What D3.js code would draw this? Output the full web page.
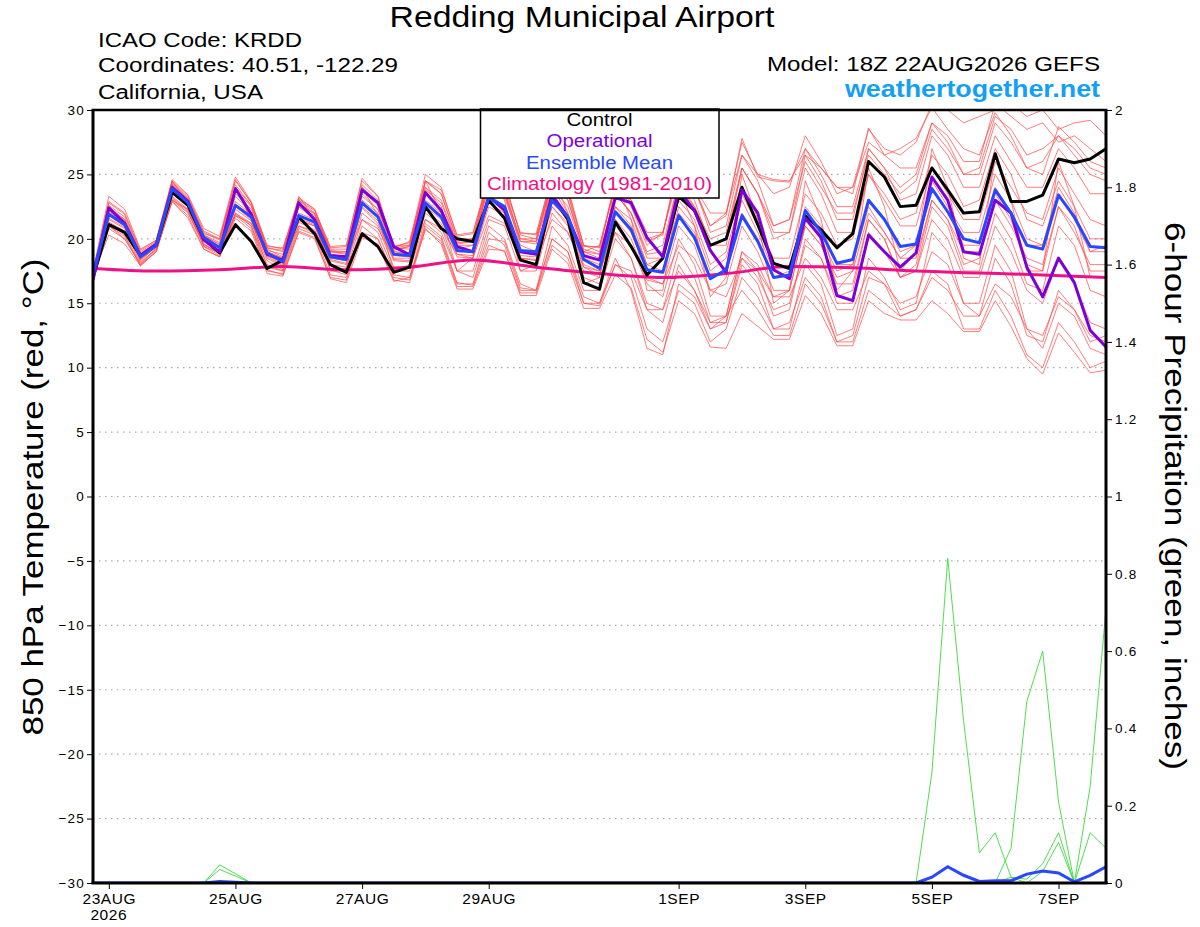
<!DOCTYPE html>
<html>
<head>
<meta charset="utf-8">
<script src="https://cdn.jsdelivr.net/npm/d3@7"></script>
<style>
  body { margin: 0; background: #fff; }
  svg { display: block; }
  text { font-family: "Liberation Sans", Arial, Helvetica, sans-serif; }
</style>
</head>
<body>
<div id="chart"></div>
<script>
// ---- data (6-hourly, 18Z 22AUG2026 .. 18Z 07SEP2026) ----
const startUtc = Date.UTC(2026, 7, 22, 18);
const stepHours = 6;
const nSteps = 65;

const controlTemp = [17.0,
  21.1,20.5,18.7,19.5, 23.6,22.6,20.0,18.9, 21.1,19.8,17.7,18.35, 21.7,20.4,18.0,17.4,
  20.4,19.4,17.4,17.8, 22.5,20.8,20.0,19.8, 23.0,21.6,18.35,18.0, 23.3,21.5,16.6,16.1,
  21.3,19.4,17.2,18.5, 23.3,22.2,19.5,20.0, 24.0,21.1,18.1,17.7, 21.8,20.7,19.3,20.4,
  26.0,24.8,22.5,22.6, 25.5,23.8,22.0,22.1, 26.6,22.9,22.9,23.4, 26.2,25.9,26.2,27.0];

const operationalTemp = [16.8,
  22.4,21.2,18.7,19.6, 24.0,22.9,19.9,19.0, 23.9,21.9,18.8,18.35, 22.8,21.5,18.7,18.6,
  23.8,22.8,19.4,18.75, 23.6,22.2,19.4,19.0, 23.3,22.2,19.0,18.8, 23.4,21.7,18.7,18.35,
  23.2,22.8,20.1,18.6, 23.8,22.2,19.1,17.4, 23.8,22.0,17.6,16.9, 21.6,20.1,15.6,15.2,
  20.3,19.0,17.8,18.9, 24.8,23.0,19.0,18.8, 23.0,22.0,17.8,15.5, 18.5,16.6,12.9,11.6];

const meanTemp = [17.3,
  21.9,21.1,18.6,19.5, 23.9,22.8,20.1,19.3, 22.6,21.7,18.9,18.2, 21.8,21.3,18.6,18.4,
  22.8,21.7,18.8,18.7, 22.8,21.7,19.1,19.0, 23.2,22.5,19.1,19.0, 23.0,21.7,18.4,17.7,
  22.1,20.7,17.6,17.4, 21.8,20.1,16.9,17.6, 21.8,19.8,17.0,17.2, 22.2,20.5,18.1,18.4,
  23.0,21.5,19.4,19.6, 23.9,22.1,20.0,19.7, 23.8,22.0,19.5,19.2, 23.4,21.7,19.4,19.3];

// climatology, one value per day at 18Z
const climTemp = [17.7,17.5,17.6,17.85,17.6,17.8,18.35,17.8,17.3,17.0,17.3,17.85,17.75,17.5,17.35,17.2,17.0];

const memberTemp = [
  [17.3,22.5,21.5,18.8, 19.6,24.2,23.0,20.3, 19.5,23.5,22.3,19.0, 18.5,22.5,21.8,19.0, 18.8,23.8,22.8,19.5, 19.5,24.5,23.5,20.0, 20.0,24.8,24.0,20.5, 20.3,25.0,23.8,19.5, 19.3,24.3,23.0,19.8, 20.3,26.0,24.0,21.0, 22.0,27.5,25.0,23.5, 24.0,28.0,26.0,23.5, 24.0,28.5,27.0,26.5, 27.5,30.5,30.0,29.0, 29.5,30.0,30.5,29.5, 30.0,28.5,29.0,29.2, 28.0],
  [17.2,20.3,19.6,17.9, 19.1,22.9,21.6,19.2, 18.6,21.6,20.6,17.3, 17.1,20.6,20.1,16.9, 16.6,20.1,19.6,16.8, 16.6,20.8,19.6,16.1, 16.1,19.2,19.1,15.6, 15.6,19.2,18.1,14.6, 14.6,17.2,16.2,12.2, 11.2,15.2,14.2,11.6, 11.5,14.2,13.2,12.2, 12.2,15.6,14.2,11.7, 11.7,15.2,14.2,13.7, 13.7,15.2,14.2,12.8, 12.8,15.2,13.2,10.7, 9.5,12.7,11.2,9.6, 9.8],
  [17.5,23.3,22.3,19.2, 19.9,24.6,23.4,20.8, 20.2,24.8,22.9,19.4, 19.3,23.2,22.3,19.3, 19.4,24.7,23.3,19.4, 19.7,25.0,24.0,20.2, 20.4,25.0,24.4,20.4, 20.4,24.8,24.0,19.4, 19.4,24.4,22.8,20.0, 20.4,25.5,23.8,21.0, 21.8,27.8,24.8,24.5, 24.4,27.0,25.5,24.0, 23.5,28.6,26.5,27.0, 27.8,30.2,28.5,27.0, 26.5,29.8,28.0,25.5, 25.0,28.7,27.5,26.0, 25.5],
  [17.0,21.0,20.0,18.0, 19.2,23.0,22.0,19.6, 18.8,22.0,21.0,18.0, 17.5,21.0,20.4,17.6, 17.2,21.0,20.0,17.2, 17.0,21.2,20.2,16.6, 16.4,20.0,19.8,16.2, 16.0,20.0,19.0,15.5, 15.0,18.0,17.0,13.0, 12.0,16.0,15.0,12.0, 13.0,17.0,15.5,13.0, 13.5,17.0,15.5,12.0, 12.5,17.0,16.5,15.0, 15.5,19.0,18.0,15.0, 15.0,19.5,17.5,13.0, 11.5,15.0,14.0,11.5, 11.0],
  [17.3,22.2,21.4,18.7, 19.6,24.0,22.9,20.2, 19.4,22.9,21.9,19.0, 18.3,22.0,21.5,18.8, 18.6,23.0,22.0,19.0, 18.9,23.5,22.3,19.5, 19.5,24.0,23.2,19.8, 19.6,24.0,22.5,19.0, 18.5,23.5,22.0,18.5, 18.5,23.0,21.5,18.0, 19.0,23.5,21.0,18.5, 18.5,23.5,22.0,19.5, 20.0,25.0,23.0,21.0, 21.0,25.5,23.5,21.5, 21.5,26.0,24.0,22.0, 21.5,25.5,23.5,21.5, 21.0],
  [17.2,21.5,20.8,18.4, 19.4,23.6,22.5,19.9, 19.0,22.3,21.4,18.6, 17.9,21.4,21.0,18.3, 18.0,22.4,21.2,18.3, 18.2,22.3,21.2,18.6, 18.5,22.5,21.8,18.5, 18.4,22.5,21.2,17.8, 17.2,21.5,20.0,16.8, 16.5,21.0,19.5,16.0, 16.5,21.0,19.0,16.0, 16.0,21.0,19.5,17.0, 17.5,22.0,20.5,18.5, 18.5,23.0,21.5,19.0, 19.0,23.0,21.0,18.5, 18.0,22.5,20.5,18.0, 18.0],
  [17.4,22.8,21.9,19.0, 19.8,24.4,23.2,20.5, 19.9,24.2,22.6,19.3, 19.0,23.0,22.0,19.2, 19.2,24.2,23.0,19.2, 19.4,24.0,22.5,19.0, 19.0,23.5,22.5,18.5, 18.0,22.5,21.0,17.0, 16.5,20.5,18.5,14.5, 13.5,18.0,16.0,13.0, 13.5,18.5,17.0,14.5, 15.0,19.5,18.5,15.0, 15.0,20.5,19.0,17.0, 17.5,21.5,20.0,17.0, 17.0,21.0,19.0,16.0, 15.0,18.5,16.5,13.5, 13.0],
  [17.1,21.2,20.3,18.1, 19.3,23.2,22.2,19.6, 18.9,22.0,21.2,18.3, 17.6,21.3,20.7,18.0, 17.5,21.5,20.5,17.5, 17.5,21.5,20.5,17.5, 17.5,21.5,21.0,17.5, 17.5,22.0,20.5,17.5, 17.0,22.5,21.0,18.0, 18.5,24.0,22.5,20.0, 20.5,25.5,23.5,21.0, 21.5,26.0,24.0,22.0, 22.0,26.5,25.0,23.5, 24.5,28.5,27.0,25.0, 25.0,29.0,27.5,25.5, 26.0,28.0,26.5,25.0, 24.5],
  [17.3,22.0,21.2,18.6, 19.5,23.8,22.8,20.1, 19.2,23.3,22.0,19.0, 18.5,22.5,21.5,18.8, 18.5,23.5,22.3,19.0, 18.8,23.0,22.0,19.2, 19.5,24.5,23.5,19.5, 19.0,24.0,22.0,18.5, 18.0,22.5,21.5,18.0, 17.5,22.5,21.0,17.5, 18.5,23.0,20.5,17.5, 17.0,21.5,20.0,17.5, 18.0,22.5,20.5,18.5, 19.5,24.5,22.5,20.5, 20.5,25.0,23.0,20.0, 19.5,24.0,22.0,19.0, 19.5],
  [17.2,21.3,20.6,18.2, 19.2,23.3,22.3,19.5, 19.0,22.5,21.5,18.5, 17.8,21.5,21.0,18.0, 17.8,22.0,21.0,17.8, 17.8,22.0,21.0,17.5, 17.0,21.0,20.0,16.5, 16.0,20.0,19.0,15.0, 15.0,18.5,16.0,11.5, 11.0,16.5,15.5,13.0, 14.0,19.0,18.0,15.5, 16.0,21.0,19.5,16.5, 16.5,21.5,20.0,17.0, 17.5,22.5,21.0,17.5, 17.5,22.0,20.0,16.5, 16.0,21.0,19.5,16.0, 15.5],
  [17.4,22.6,21.7,18.9, 19.7,24.3,23.1,20.4, 20.0,24.5,22.8,19.5, 19.2,23.0,22.2,19.4, 19.5,24.5,23.3,19.3, 19.8,24.5,23.8,20.3, 20.5,24.5,23.8,20.0, 20.0,24.5,23.5,19.0, 19.5,24.0,23.0,20.5, 20.5,25.0,24.0,22.0, 22.0,26.5,25.0,24.6, 24.5,26.5,25.5,24.0, 24.0,27.5,26.5,25.5, 25.5,29.0,28.0,26.0, 26.0,30.5,29.5,28.5, 29.0,27.5,28.0,27.0, 26.0],
  [17.1,20.8,20.0,18.0, 19.0,22.9,21.8,19.2, 18.6,21.8,20.8,17.5, 17.3,20.8,20.3,17.2, 17.0,20.5,20.0,17.0, 16.8,21.0,20.0,16.5, 16.5,20.5,19.5,16.0, 16.0,21.0,19.5,16.0, 16.0,20.0,18.5,15.0, 14.5,19.0,17.0,13.5, 13.5,18.0,16.5,13.0, 13.0,18.0,16.5,12.5, 13.0,18.5,17.0,14.5, 15.0,20.5,19.0,15.0, 14.0,18.5,16.5,12.5, 12.0,16.0,14.5,12.0, 12.5],
  [17.3,21.8,21.0,18.5, 19.5,23.9,22.7,20.0, 19.3,22.7,21.8,18.8, 18.1,21.8,21.3,18.6, 18.3,22.8,21.8,18.7, 18.6,22.8,21.8,19.0, 19.0,23.2,22.5,19.0, 19.0,23.0,21.8,18.5, 17.8,22.0,20.5,17.5, 17.5,22.0,20.5,17.0, 17.5,22.0,20.0,17.0, 17.5,22.5,21.0,18.0, 18.0,23.0,21.5,19.0, 19.5,24.0,22.0,19.5, 19.5,24.0,22.0,19.5, 19.5,23.5,21.5,19.0, 19.0],
  [17.4,22.4,21.3,18.3, 19.4,24.5,22.8,19.4, 18.9,24.0,21.5,17.8, 17.5,23.3,21.5,17.5, 17.5,24.0,21.8,17.5, 18.0,24.5,22.0,17.5, 18.5,25.0,23.0,17.5, 18.0,25.0,22.0,16.5, 17.0,24.5,21.5,16.0, 16.0,24.0,21.0,15.5, 17.0,25.0,21.5,15.0, 16.0,24.5,21.5,16.0, 17.5,25.5,22.5,17.5, 19.0,27.0,24.0,18.5, 18.0,26.5,23.0,17.5, 17.5,26.0,22.5,17.0, 17.0],
  [17.2,21.2,20.6,18.4, 19.4,23.0,22.3,19.9, 19.3,21.8,21.2,18.9, 18.3,21.0,20.6,18.5, 18.3,21.5,20.8,18.5, 18.5,21.5,20.8,18.8, 18.5,21.8,21.2,18.5, 18.3,21.5,20.5,17.8, 17.5,20.5,19.5,17.0, 16.5,19.5,18.5,16.0, 15.5,18.5,17.5,15.5, 15.5,18.5,17.0,14.5, 14.5,17.5,16.5,14.0, 14.5,17.0,16.0,14.0, 14.0,16.5,15.5,13.0, 12.5,15.5,14.5,12.5, 12.0],
  [17.3,22.1,21.3,18.7, 19.6,24.1,22.9,20.2, 19.6,23.8,22.5,19.2, 18.6,22.8,21.9,19.0, 18.9,23.3,22.3,19.3, 19.2,23.8,22.8,19.6, 19.8,24.0,23.5,20.0, 19.8,24.5,23.0,19.0, 18.8,23.5,22.0,18.8, 19.0,24.5,22.5,19.5, 19.5,25.5,23.5,20.5, 20.5,26.5,24.5,21.5, 21.5,27.0,25.5,23.0, 23.5,28.0,26.5,24.0, 24.0,28.0,26.0,24.0, 24.0,27.0,25.5,23.5, 23.5],
  [17.1,21.0,20.2,17.9, 19.0,23.1,22.1,19.4, 18.7,21.9,21.0,17.6, 17.2,20.5,20.0,17.0, 16.8,20.5,19.5,16.7, 17.0,20.7,19.8,16.3, 16.3,19.5,19.0,15.8, 15.8,19.5,18.5,15.0, 14.8,18.0,17.5,14.5, 14.5,17.5,16.0,13.5, 14.0,16.0,14.5,12.5, 12.5,16.5,15.0,12.0, 12.0,16.0,15.0,14.0, 14.5,17.5,16.5,13.0, 13.0,16.0,14.0,11.0, 10.0,13.5,12.0,10.0, 10.5],
  [17.4,22.9,22.0,19.1, 19.9,24.5,23.3,20.6, 20.0,24.6,22.8,19.3, 19.1,23.1,22.3,19.0, 19.0,24.0,22.8,19.3, 19.5,24.5,23.5,19.8, 20.0,25.0,24.5,20.3, 20.0,24.8,23.5,19.5, 19.0,24.5,22.5,19.5, 20.5,25.8,24.0,20.5, 21.0,26.5,24.5,21.0, 21.5,27.0,25.0,22.5, 22.5,27.0,25.5,24.0, 25.0,29.0,27.5,25.0, 25.5,29.5,28.5,26.5, 27.0,28.0,27.0,25.5, 25.0],
  [17.2,21.6,20.9,18.5, 19.4,23.7,22.6,19.9, 19.1,22.6,21.6,18.7, 18.0,21.6,21.1,18.4, 18.1,22.5,21.4,18.4, 18.3,22.5,21.5,18.8, 18.7,22.8,22.0,18.7, 18.6,22.8,21.5,18.0, 17.5,21.5,19.5,16.5, 15.5,20.0,18.0,14.0, 14.0,19.0,17.5,14.0, 14.5,20.0,18.5,15.5, 16.0,21.5,20.0,17.0, 18.0,23.0,21.5,18.0, 18.5,23.5,21.5,18.0, 17.5,22.5,21.0,17.5, 17.5],
  [17.3,22.3,21.5,18.8, 19.7,24.2,23.0,20.3, 19.7,24.0,22.6,19.1, 18.8,22.6,22.0,19.1, 19.0,23.8,22.6,19.1, 19.4,24.0,23.0,19.7, 19.8,24.5,23.8,19.8, 19.8,24.5,23.0,19.2, 18.8,23.5,22.0,19.0, 19.5,24.5,23.0,19.5, 20.0,25.5,23.5,20.0, 20.5,25.5,23.5,20.5, 20.5,25.0,23.5,21.5, 22.0,26.5,25.0,22.5, 23.0,27.0,25.0,21.5, 21.0,24.5,22.5,20.0, 20.0]
];

// 6-hour precipitation (inches): members that had rain, then ensemble mean
const precipWet = [
  [0,0,0,0, 0,0,0,0, 0.047,0.024,0,0, 0,0,0,0, 0,0,0,0, 0,0,0,0, 0,0,0,0, 0,0,0,0, 0,0,0,0, 0,0,0,0, 0,0,0,0, 0,0,0,0, 0,0,0,0, 0,0,0,0, 0,0,0,0, 0,0,0,0, 0],
  [0,0,0,0, 0,0,0,0, 0.035,0.018,0,0, 0,0,0,0, 0,0,0,0, 0,0,0,0, 0,0,0,0, 0,0,0,0, 0,0,0,0, 0,0,0,0, 0,0,0,0, 0,0,0,0, 0,0,0,0, 0,0.285,0.84,0.42, 0.078,0.13,0.015,0, 0,0,0,0, 0],
  [0,0,0,0, 0,0,0,0, 0,0,0,0, 0,0,0,0, 0,0,0,0, 0,0,0,0, 0,0,0,0, 0,0,0,0, 0,0,0,0, 0,0,0,0, 0,0,0,0, 0,0,0,0, 0,0,0,0, 0,0,0,0, 0,0,0.09,0.47, 0.6,0.21,0,0.25, 0.71],
  [0,0,0,0, 0,0,0,0, 0,0,0,0, 0,0,0,0, 0,0,0,0, 0,0,0,0, 0,0,0,0, 0,0,0,0, 0,0,0,0, 0,0,0,0, 0,0,0,0, 0,0,0,0, 0,0,0,0, 0,0,0,0, 0,0,0.015,0.01, 0.05,0.13,0,0.13, 0.09],
  [0,0,0,0, 0,0,0,0, 0,0,0,0, 0,0,0,0, 0,0,0,0, 0,0,0,0, 0,0,0,0, 0,0,0,0, 0,0,0,0, 0,0,0,0, 0,0,0,0, 0,0,0,0, 0,0,0,0, 0,0,0,0, 0,0,0,0, 0.03,0.105,0,0, 0]
];
const precipMean = [0,0,0,0, 0,0,0,0, 0.004,0.002,0,0, 0,0,0,0, 0,0,0,0, 0,0,0,0, 0,0,0,0, 0,0,0,0,
  0,0,0,0, 0,0,0,0, 0,0,0,0, 0,0,0,0, 0,0,0,0, 0,0.015,0.042,0.02, 0.004,0.006,0.006,0.023, 0.031,0.026,0.003,0.02, 0.042];

// axis ticks
const tempTicks = [-30,-25,-20,-15,-10,-5,0,5,10,15,20,25,30];
const precipTicks = [0,0.2,0.4,0.6,0.8,1,1.2,1.4,1.6,1.8,2];
const dateTickLabels = ["23AUG","25AUG","27AUG","29AUG","1SEP","3SEP","5SEP","7SEP"];
const dateTickDays = [[7,23],[7,25],[7,27],[7,29],[8,1],[8,3],[8,5],[8,7]];

const legendItems = [
  { label: "Control", color: "#000000", width: 66 },
  { label: "Operational", color: "#8000d8", width: 106 },
  { label: "Ensemble Mean", color: "#2848ff", width: 147 },
  { label: "Climatology (1981-2010)", color: "#f0108a", width: 225 }
];

// ---- drawing ----
const W = 1200, H = 927;
const plot = { left: 93, right: 1106, top: 110, bottom: 883 };

const times = d3.range(nSteps).map(i => new Date(startUtc + i * stepHours * 3600e3));
const climTimes = d3.range(climTemp.length).map(i => new Date(startUtc + i * 24 * 3600e3));
const dateTicks = dateTickDays.map(d => new Date(Date.UTC(2026, d[0], d[1], 0)));

const x = d3.scaleUtc().domain([times[0], times[nSteps - 1]]).range([plot.left, plot.right]);
const yT = d3.scaleLinear().domain([-30, 30]).range([plot.bottom, plot.top]);
const yP = d3.scaleLinear().domain([0, 2]).range([plot.bottom, plot.top]);

const svg = d3.select("#chart").append("svg")
    .attr("width", W)
    .attr("height", H);

svg.append("defs").append("clipPath")
    .attr("id", "plot-clip")
    .append("rect")
        .attr("x", plot.left)
        .attr("y", plot.top)
        .attr("width", plot.right - plot.left)
        .attr("height", plot.bottom - plot.top);

// stretch text to the width of the wide plotting font
function fit(sel, len) {
    return sel.attr("textLength", len).attr("lengthAdjust", "spacingAndGlyphs");
}

// header
fit(svg.append("text")
    .attr("x", 582).attr("y", 27)
    .attr("text-anchor", "middle")
    .attr("font-size", 30)
    .text("Redding Municipal Airport"), 385);

const leftHeader = [
  { t: "ICAO Code: KRDD", y: 47, w: 204 },
  { t: "Coordinates: 40.51, -122.29", y: 72, w: 300 },
  { t: "California, USA", y: 99, w: 165 }
];
leftHeader.forEach(d => {
    fit(svg.append("text")
        .attr("x", 98).attr("y", d.y)
        .attr("font-size", 20)
        .text(d.t), d.w);
});

fit(svg.append("text")
    .attr("x", 767).attr("y", 71)
    .attr("font-size", 20)
    .text("Model: 18Z 22AUG2026 GEFS"), 333);

fit(svg.append("text")
    .attr("x", 845).attr("y", 97)
    .attr("font-size", 23)
    .attr("font-weight", "bold")
    .attr("fill", "#129ff5")
    .text("weathertogether.net"), 255);

// grid
const grid = svg.append("g").attr("class", "grid");
grid.selectAll("line")
    .data(tempTicks.filter(d => d > -30 && d < 30))
    .join("line")
        .attr("x1", plot.left).attr("x2", plot.right)
        .attr("y1", d => yT(d)).attr("y2", d => yT(d))
        .attr("stroke", "#a8a8a8")
        .attr("stroke-width", 1.2)
        .attr("stroke-dasharray", "1.5,4.5");

const area = svg.append("g").attr("clip-path", "url(#plot-clip)");

const tLine = d3.line()
    .x((d, i) => x(times[i]))
    .y(d => yT(d));

const pLine = d3.line()
    .x((d, i) => x(times[i]))
    .y(d => yP(d));

// members
area.append("g").attr("class", "members")
    .selectAll("path")
    .data(memberTemp)
    .join("path")
        .attr("fill", "none")
        .attr("stroke", "#ff4a4a")
        .attr("stroke-width", 0.8)
        .attr("stroke-opacity", 0.9)
        .attr("d", tLine);

// precip members
area.append("g").attr("class", "precip-members")
    .selectAll("path")
    .data(precipWet)
    .join("path")
        .attr("fill", "none")
        .attr("stroke", "#3ada3a")
        .attr("stroke-width", 0.9)
        .attr("d", pLine);

// climatology
area.append("path")
    .datum(climTemp)
    .attr("fill", "none")
    .attr("stroke", "#ee1188")
    .attr("stroke-width", 3)
    .attr("d", d3.line()
        .curve(d3.curveMonotoneX)
        .x((d, i) => x(climTimes[i]))
        .y(d => yT(d)));

const mainLines = [
  { data: controlTemp, color: "#000000" },
  { data: operationalTemp, color: "#7e00d6" },
  { data: meanTemp, color: "#2848ff" }
];
mainLines.forEach(s => {
    area.append("path")
        .datum(s.data)
        .attr("fill", "none")
        .attr("stroke", s.color)
        .attr("stroke-width", 3)
        .attr("stroke-linejoin", "round")
        .attr("d", tLine);
});

area.append("path")
    .datum(precipMean)
    .attr("fill", "none")
    .attr("stroke", "#2848ff")
    .attr("stroke-width", 3)
    .attr("d", pLine);

// legend
const legend = svg.append("g").attr("class", "legend");
legend.append("rect")
    .attr("x", 480.5).attr("y", 109)
    .attr("width", 238.5).attr("height", 89)
    .attr("fill", "#fff")
    .attr("stroke", "#000")
    .attr("stroke-width", 1.5);
legendItems.forEach((d, i) => {
    fit(legend.append("text")
        .attr("x", 599.5)
        .attr("y", 126 + i * 21.4)
        .attr("text-anchor", "middle")
        .attr("font-size", 17.5)
        .attr("fill", d.color)
        .text(d.label), d.width);
});

// axes
const yAxisL = d3.axisLeft(yT).tickValues(tempTicks).tickSize(6).tickPadding(2);
const gL = svg.append("g")
    .attr("transform", `translate(${plot.left},0)`)
    .call(yAxisL);
gL.select(".domain").remove();
gL.selectAll("text").attr("font-size", 13.5).attr("letter-spacing", 1.2).attr("font-family", "Liberation Sans, Arial, sans-serif");

const yAxisR = d3.axisRight(yP).tickValues(precipTicks).tickSize(6).tickPadding(3)
    .tickFormat(d3.format("~g"));
const gR = svg.append("g")
    .attr("transform", `translate(${plot.right},0)`)
    .call(yAxisR);
gR.select(".domain").remove();
gR.selectAll("text").attr("font-size", 13.5).attr("letter-spacing", 1.2).attr("font-family", "Liberation Sans, Arial, sans-serif");

const xAxis = d3.axisBottom(x).tickValues(dateTicks).tickSize(6).tickPadding(4)
    .tickFormat((d, i) => dateTickLabels[i]);
const gX = svg.append("g")
    .attr("transform", `translate(0,${plot.bottom})`)
    .call(xAxis);
gX.select(".domain").remove();
gX.selectAll("text").attr("font-size", 15.5).attr("letter-spacing", 0.6).attr("font-family", "Liberation Sans, Arial, sans-serif");
gX.append("text")
    .attr("x", x(dateTicks[0]))
    .attr("y", 37)
    .attr("text-anchor", "middle")
    .attr("fill", "#000")
    .attr("font-size", 15.5)
    .attr("letter-spacing", 0.6)
    .text("2026");

// frame
const frame = svg.append("g").attr("stroke", "#000").attr("fill", "none");
frame.append("line").attr("x1", plot.left - 1.5).attr("x2", plot.right + 1.5)
    .attr("y1", plot.top).attr("y2", plot.top).attr("stroke-width", 2.5);
frame.append("line").attr("x1", plot.left - 1.5).attr("x2", plot.right + 1.5)
    .attr("y1", plot.bottom).attr("y2", plot.bottom).attr("stroke-width", 3);
frame.append("line").attr("x1", plot.left).attr("x2", plot.left)
    .attr("y1", plot.top).attr("y2", plot.bottom).attr("stroke-width", 3);
frame.append("line").attr("x1", plot.right).attr("x2", plot.right)
    .attr("y1", plot.top).attr("y2", plot.bottom).attr("stroke-width", 3);

// axis titles
fit(svg.append("text")
    .attr("transform", `translate(43,497) rotate(-90)`)
    .attr("text-anchor", "middle")
    .attr("font-size", 30)
    .text("850 hPa Temperature (red, °C)"), 477);

fit(svg.append("text")
    .attr("transform", `translate(1165,496) rotate(90)`)
    .attr("text-anchor", "middle")
    .attr("font-size", 30)
    .text("6-hour Precipitation (green, inches)"), 548);
</script>
</body>
</html>
